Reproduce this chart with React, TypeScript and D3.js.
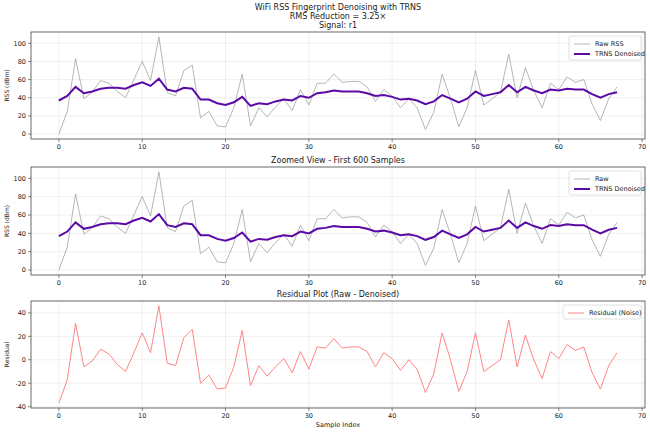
import React from "react";
import * as d3 from "d3";

const denoised = [37, 42, 52, 45, 47, 50, 51, 51, 50, 54, 57, 53, 61, 49, 47, 51, 50, 38, 38, 34, 32, 35, 41, 31, 34, 33, 36, 38, 37, 42, 40, 45, 46, 48, 47, 47, 47, 45, 42, 43, 41, 38, 39, 37, 33, 36, 43, 39, 35, 39, 47, 42, 44, 46, 54, 46, 52, 48, 45, 49, 48, 50, 49, 49, 44, 40, 44, 46];
const residual = [-37, -17, 31, -6, -1, 9, 5, -4, -10, 6, 23, 6, 46, -3, -5, 19, 26, -20, -13, -25, -24, -6, 25, -22, -5, -14, -6, 1, -11, 7, -8, 11, 10, 18, 10, 11, 11, 7, -6, 6, 1, -9, 0, -8, -28, -12, 23, 0, -27, -10, 23, -10, -5, 0, 34, -6, 21, 0, -16, 7, 1, 13, 8, 11, -11, -25, -5, 6];
const raw = denoised.map((d, i) => d + residual[i]);
const xTicks = [0, 10, 20, 30, 40, 50, 60, 70];

const W = 650;
const H = 432;
const L = 31;
const R = 645;
const font = "DejaVu Sans, sans-serif";

type Series = { values: number[]; color: string; width: number; label: string; opacity?: number };

function Panel({ top, bottom, title, domain, yTicks, yLabel, series, xLabel, legendW }: {
  top: number; bottom: number; title: string; domain: [number, number]; yTicks: number[];
  yLabel: string; series: Series[]; xLabel?: string; legendW: number;
}) {
  const x = d3.scaleLinear().domain([-3.35, 70.35]).range([L, R]);
  const y = d3.scaleLinear().domain(domain).range([bottom, top]);
  const line = (v: number[]) => d3.line<number>().x((_, i) => x(i)).y((d) => y(d))(v) || "";
  return (
    <g fontFamily={font}>
      {xTicks.map((t) => (
        <g key={"x" + t}>
          <line x1={x(t)} x2={x(t)} y1={top} y2={bottom} stroke="#e6e6e6" strokeWidth={0.6} />
          <line x1={x(t)} x2={x(t)} y1={bottom} y2={bottom + 3} stroke="#333" strokeWidth={0.6} />
          <text x={x(t)} y={bottom + 10} fontSize={6.5} textAnchor="middle" fill="#222">{t}</text>
        </g>
      ))}
      {yTicks.map((t) => (
        <g key={"y" + t}>
          <line x1={L} x2={R} y1={y(t)} y2={y(t)} stroke="#e6e6e6" strokeWidth={0.6} />
          <line x1={L - 3} x2={L} y1={y(t)} y2={y(t)} stroke="#333" strokeWidth={0.6} />
          <text x={L - 5} y={y(t) + 2.3} fontSize={6.5} textAnchor="end" fill="#222">{t}</text>
        </g>
      ))}
      {series.map((s) => (
        <path key={s.label} d={line(s.values)} fill="none" stroke={s.color} strokeWidth={s.width} strokeOpacity={s.opacity ?? 1} />
      ))}
      <rect x={L} y={top} width={R - L} height={bottom - top} fill="none" stroke="#444" strokeWidth={0.8} />
      <text x={(L + R) / 2} y={top - 4} fontSize={8} textAnchor="middle" fill="#222">{title}</text>
      <text transform={`translate(9,${(top + bottom) / 2}) rotate(-90)`} fontSize={6} textAnchor="middle" fill="#222">{yLabel}</text>
      {xLabel && <text x={(L + R) / 2} y={bottom + 19} fontSize={6.5} textAnchor="middle" fill="#222">{xLabel}</text>}
      <g transform={`translate(${R - legendW - 4},${top + 4})`}>
        <rect width={legendW} height={series.length * 10 + 4} rx={2} fill="white" stroke="#ccc" strokeWidth={0.6} />
        {series.map((s, i) => (
          <g key={s.label} transform={`translate(5,${8 + i * 10})`}>
            <line x1={0} x2={16} y1={0} y2={0} stroke={s.color} strokeWidth={s.width} strokeOpacity={s.opacity ?? 1} />
            <text x={21} y={2.3} fontSize={6.5} fill="#222">{s.label}</text>
          </g>
        ))}
      </g>
    </g>
  );
}

export default function App() {
  return (
    <svg width={W} height={H} style={{ display: "block", position: "absolute", left: 0, top: 0 }}>
      <rect width={W} height={H} fill="white" />
      <g fontFamily={font} fontSize={8} textAnchor="middle" fill="#222">
        <text x={338} y={10}>WiFi RSS Fingerprint Denoising with TRNS</text>
        <text x={338} y={19}>RMS Reduction = 3.25×</text>
      </g>
      <Panel top={32} bottom={139} title="Signal: r1" domain={[-5.35, 112.35]} yTicks={[0, 20, 40, 60, 80, 100]} yLabel="RSS (dBm)" legendW={72}
        series={[{ values: raw, color: "#999", width: 0.9, label: "Raw RSS", opacity: 0.8 }, { values: denoised, color: "#5b0aa6", width: 2, label: "TRNS Denoised" }]} />
      <Panel top={167} bottom={275} title="Zoomed View - First 600 Samples" domain={[-5.35, 112.35]} yTicks={[0, 20, 40, 60, 80, 100]} yLabel="RSS (dBm)" legendW={72}
        series={[{ values: raw, color: "#999", width: 0.9, label: "Raw", opacity: 0.8 }, { values: denoised, color: "#5b0aa6", width: 2, label: "TRNS Denoised" }]} />
      <Panel top={301} bottom={408} title="Residual Plot (Raw - Denoised)" domain={[-41.15, 50.15]} yTicks={[-40, -20, 0, 20, 40]} yLabel="Residual" legendW={78} xLabel="Sample Index"
        series={[{ values: residual, color: "#ff7777", width: 0.9, label: "Residual (Noise)" }]} />
    </svg>
  );
}
